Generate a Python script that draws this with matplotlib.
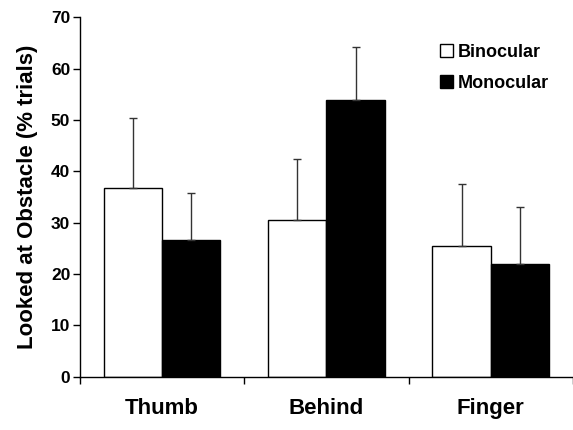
import numpy as np
import matplotlib.pyplot as plt
from matplotlib.patches import Patch

plt.rcParams['font.family'] = ['Liberation Sans', 'DejaVu Sans']
plt.rcParams['font.weight'] = 'bold'

categories = ['Thumb', 'Behind', 'Finger']
binocular = [36.8, 30.6, 25.5]
binocular_err = [13.5, 11.8, 12.0]
monocular = [26.7, 53.8, 21.9]
monocular_err = [9.0, 10.4, 11.1]

fig = plt.figure(figsize=(5.73, 4.3), dpi=100)
ax = fig.add_axes([0.1396, 0.124, 0.8604, 0.836])

x = np.arange(len(categories)) + 0.5
w = 0.355
err_kw = dict(ecolor='#333333', elinewidth=1.0, capsize=3, capthick=1.0)
ax.bar(x - w / 2, binocular, w, color='white', edgecolor='black', linewidth=1.0,
       yerr=[np.zeros(3), binocular_err], error_kw=err_kw, zorder=2)
ax.bar(x + w / 2, monocular, w, color='black', edgecolor='black', linewidth=1.0,
       yerr=[np.zeros(3), monocular_err], error_kw=err_kw, zorder=2)

ax.set_xlim(0, 3)
ax.set_ylim(0, 70)
ax.set_yticks(np.arange(0, 71, 10))
ax.set_xticks(x)
ax.set_xticklabels(categories, fontsize=16, fontweight='bold')
ax.set_xticks(np.arange(0, 4), minor=True)
ax.tick_params(axis='x', which='major', length=0, pad=15)
ax.tick_params(axis='x', which='minor', length=5, width=1)
ax.tick_params(axis='y', length=5, width=1, labelsize=12.5, pad=2)
for lab in ax.get_yticklabels():
    lab.set_fontweight('bold')
ax.set_ylabel('Looked at Obstacle (% trials)', fontsize=16, fontweight='bold', labelpad=9)

for s in ['top', 'right']:
    ax.spines[s].set_visible(False)
ax.spines['left'].set_linewidth(1)
ax.spines['bottom'].set_linewidth(1)

handles = [Patch(facecolor='white', edgecolor='black', linewidth=1),
           Patch(facecolor='black', edgecolor='black', linewidth=1)]
fig.legend(handles, ['Binocular', 'Monocular'], loc='upper left',
           bbox_to_anchor=(440 / 573, 1 - 44 / 430), frameon=False,
           fontsize=13, handlelength=0.7, handleheight=0.7,
           handletextpad=0.3, labelspacing=0.75, borderpad=0, borderaxespad=0)

fig.savefig('out.png', dpi=100)
